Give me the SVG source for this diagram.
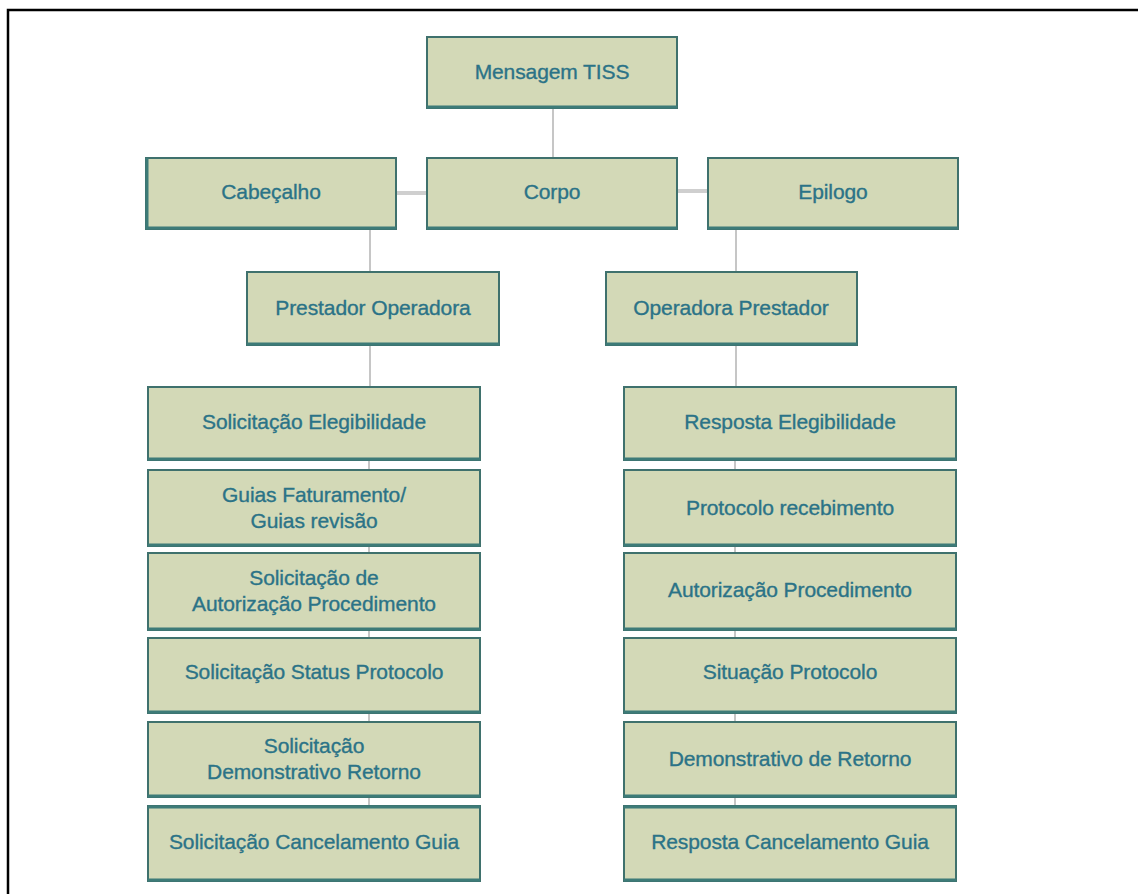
<svg xmlns="http://www.w3.org/2000/svg" width="1139" height="894" viewBox="0 0 1139 894">
<style>
.box{fill:#d3d9b7;stroke:#3f716d;stroke-width:2}
.shadow{stroke:#3d7b78;stroke-width:3;fill:none}
.lbl{font-family:"Liberation Sans",Arial,sans-serif;font-size:21px;fill:#2b7387;stroke:#2b7387;stroke-width:0.35;text-anchor:middle;letter-spacing:-0.1px}
.conn{stroke:#c6c6c6;stroke-width:2;fill:none}
.hconn{stroke:#cfcfcf;stroke-width:4;fill:none}
</style>
<rect width="1139" height="894" fill="#ffffff"/>
<path d="M8 894 V10 H1138" fill="none" stroke="#000" stroke-width="2.5"/>
<g id="connectors">
<line class="conn" x1="553" y1="108" x2="553" y2="158"/>
<line class="hconn" x1="397" y1="193" x2="427" y2="193"/>
<line class="hconn" x1="677" y1="191" x2="708" y2="191"/>
<line class="conn" x1="370" y1="229" x2="370" y2="272"/>
<line class="conn" x1="736" y1="229" x2="736" y2="272"/>
<line class="conn" x1="370" y1="345" x2="370" y2="387"/>
<line class="conn" x1="736" y1="345" x2="736" y2="387"/>
<line class="conn" x1="369" y1="460" x2="369" y2="470"/>
<line class="conn" x1="369" y1="546" x2="369" y2="553"/>
<line class="conn" x1="369" y1="630" x2="369" y2="638"/>
<line class="conn" x1="369" y1="713" x2="369" y2="722"/>
<line class="conn" x1="369" y1="797" x2="369" y2="806"/>
<line class="conn" x1="735" y1="460" x2="735" y2="470"/>
<line class="conn" x1="735" y1="546" x2="735" y2="553"/>
<line class="conn" x1="735" y1="630" x2="735" y2="638"/>
<line class="conn" x1="735" y1="713" x2="735" y2="722"/>
<line class="conn" x1="735" y1="797" x2="735" y2="806"/>
</g>
<g id="mensagem">
<rect class="box" x="427" y="37" width="250" height="71"/>
<line class="shadow" x1="427" y1="107" x2="677" y2="107"/>
<text class="lbl" x="552" y="79">Mensagem TISS</text>
</g>
<g id="cabecalho">
<rect class="box" x="146" y="158" width="250" height="71"/>
<line class="shadow" x1="146" y1="228" x2="396" y2="228"/>
<line class="shadow" x1="147" y1="158" x2="147" y2="229"/>
<text class="lbl" x="271" y="199">Cabeçalho</text>
</g>
<g id="corpo">
<rect class="box" x="427" y="158" width="250" height="71"/>
<line class="shadow" x1="427" y1="228" x2="677" y2="228"/>
<text class="lbl" x="552" y="199">Corpo</text>
</g>
<g id="epilogo">
<rect class="box" x="708" y="158" width="250" height="71"/>
<line class="shadow" x1="708" y1="228" x2="958" y2="228"/>
<text class="lbl" x="833" y="199">Epilogo</text>
</g>
<g id="prestador-operadora">
<rect class="box" x="247" y="272" width="252" height="73"/>
<line class="shadow" x1="247" y1="344" x2="499" y2="344"/>
<text class="lbl" x="373" y="315">Prestador Operadora</text>
</g>
<g id="operadora-prestador">
<rect class="box" x="606" y="272" width="251" height="73"/>
<line class="shadow" x1="606" y1="344" x2="857" y2="344"/>
<text class="lbl" x="731" y="315">Operadora Prestador</text>
</g>
<g id="l1">
<rect class="box" x="148" y="387" width="332" height="73"/>
<line class="shadow" x1="148" y1="459" x2="480" y2="459"/>
<text class="lbl" x="314" y="429">Solicitação Elegibilidade</text>
</g>
<g id="l2">
<rect class="box" x="148" y="470" width="332" height="76"/>
<line class="shadow" x1="148" y1="545" x2="480" y2="545"/>
<text class="lbl" x="314" y="502">Guias Faturamento/</text>
<text class="lbl" x="314" y="528">Guias revisão</text>
</g>
<g id="l3">
<rect class="box" x="148" y="553" width="332" height="77"/>
<line class="shadow" x1="148" y1="629" x2="480" y2="629"/>
<text class="lbl" x="314" y="585">Solicitação de</text>
<text class="lbl" x="314" y="611">Autorização Procedimento</text>
</g>
<g id="l4">
<rect class="box" x="148" y="638" width="332" height="75"/>
<line class="shadow" x1="148" y1="712" x2="480" y2="712"/>
<text class="lbl" x="314" y="679">Solicitação Status Protocolo</text>
</g>
<g id="l5">
<rect class="box" x="148" y="722" width="332" height="75"/>
<line class="shadow" x1="148" y1="796" x2="480" y2="796"/>
<text class="lbl" x="314" y="753">Solicitação</text>
<text class="lbl" x="314" y="779">Demonstrativo Retorno</text>
</g>
<g id="l6">
<rect class="box" x="148" y="806" width="332" height="75"/>
<line class="shadow" x1="148" y1="807" x2="480" y2="807"/>
<line class="shadow" x1="148" y1="880" x2="480" y2="880"/>
<text class="lbl" x="314" y="849">Solicitação Cancelamento Guia</text>
</g>
<g id="r1">
<rect class="box" x="624" y="387" width="332" height="73"/>
<line class="shadow" x1="624" y1="459" x2="956" y2="459"/>
<text class="lbl" x="790" y="429">Resposta Elegibilidade</text>
</g>
<g id="r2">
<rect class="box" x="624" y="470" width="332" height="76"/>
<line class="shadow" x1="624" y1="545" x2="956" y2="545"/>
<text class="lbl" x="790" y="515">Protocolo recebimento</text>
</g>
<g id="r3">
<rect class="box" x="624" y="553" width="332" height="77"/>
<line class="shadow" x1="624" y1="629" x2="956" y2="629"/>
<text class="lbl" x="790" y="597">Autorização Procedimento</text>
</g>
<g id="r4">
<rect class="box" x="624" y="638" width="332" height="75"/>
<line class="shadow" x1="624" y1="712" x2="956" y2="712"/>
<text class="lbl" x="790" y="679">Situação Protocolo</text>
</g>
<g id="r5">
<rect class="box" x="624" y="722" width="332" height="75"/>
<line class="shadow" x1="624" y1="796" x2="956" y2="796"/>
<text class="lbl" x="790" y="766">Demonstrativo de Retorno</text>
</g>
<g id="r6">
<rect class="box" x="624" y="806" width="332" height="75"/>
<line class="shadow" x1="624" y1="807" x2="956" y2="807"/>
<line class="shadow" x1="624" y1="880" x2="956" y2="880"/>
<text class="lbl" x="790" y="849">Resposta Cancelamento Guia</text>
</g>
</svg>
